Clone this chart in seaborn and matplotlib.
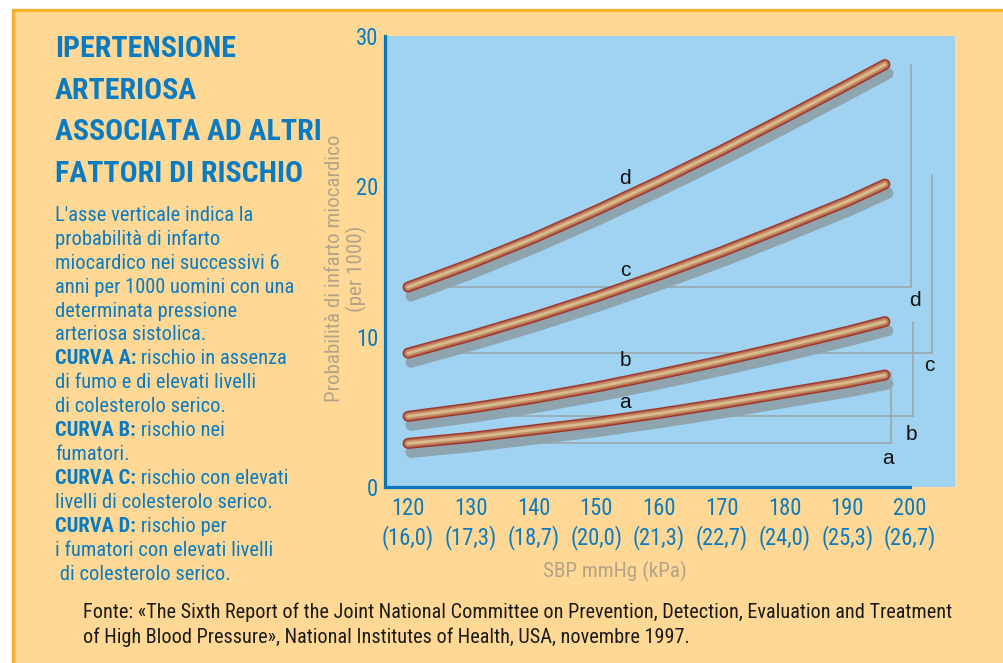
import matplotlib
matplotlib.use("Agg")
import matplotlib.pyplot as plt
import matplotlib.transforms as mtransforms
from matplotlib import font_manager
from matplotlib.patches import Rectangle
import pandas as pd
import seaborn as sns

# --- data -----------------------------------------------------------------
sbp = [120, 130, 140, 150, 160, 170, 180, 190, 196]
curve_a = [2.9, 3.3, 3.8, 4.3, 4.9, 5.55, 6.25, 6.95, 7.45]
curve_b = [4.7, 5.25, 5.9, 6.65, 7.5, 8.4, 9.35, 10.35, 11.0]
curve_c = [8.9, 10.05, 11.3, 12.65, 14.1, 15.65, 17.3, 19.0, 20.15]
curve_d = [13.3, 14.85, 16.55, 18.4, 20.35, 22.4, 24.55, 26.75, 28.1]
curve_names = ["a", "b", "c", "d"]

tick_mmhg = [120, 130, 140, 150, 160, 170, 180, 190, 200]
tick_kpa = ["16,0", "17,3", "18,7", "20,0", "21,3", "22,7", "24,0", "25,3", "26,7"]
y_ticks = [0, 10, 20, 30]

title_lines = ["IPERTENSIONE", "ARTERIOSA", "ASSOCIATA AD ALTRI", "FATTORI DI RISCHIO"]
body_lines = [
    ("", "L'asse verticale indica la"),
    ("", "probabilità di infarto"),
    ("", "miocardico nei successivi 6"),
    ("", "anni per 1000 uomini con una"),
    ("", "determinata pressione"),
    ("", "arteriosa sistolica."),
    ("CURVA A:", " rischio in assenza"),
    ("", "di fumo e di elevati livelli"),
    ("", "di colesterolo serico."),
    ("CURVA B:", " rischio nei"),
    ("", "fumatori."),
    ("CURVA C:", " rischio con elevati"),
    ("", "livelli di colesterolo serico."),
    ("CURVA D:", " rischio per"),
    ("", "i fumatori con elevati livelli"),
    ("", " di colesterolo serico."),
]
source_lines = [
    "Fonte: «The Sixth Report of the Joint National Committee on Prevention, Detection, Evaluation and Treatment",
    "of High Blood Pressure», National Institutes of Health, USA, novembre 1997.",
]
y_label_lines = ["Probabilità di infarto miocardico", "(per 1000)"]
x_label = "SBP mmHg (kPa)"

# --- style ------------------------------------------------------------------
sns.set_theme(style="white")

# pick the narrowest sans family that is installed
installed = {f.name for f in font_manager.fontManager.ttflist}
condensed = [f.name for f in font_manager.fontManager.ttflist
             if str(f.stretch) in ("condensed", "semi-condensed", "extra-condensed")
             or "Condensed" in f.name or "Narrow" in f.name]
FONT = None
for cand in ["Liberation Sans Narrow", "Roboto Condensed", "Open Sans Condensed"] + sorted(set(condensed)):
    if cand in installed:
        FONT = cand
        break
if FONT is None:
    FONT = "Liberation Sans"
plt.rcParams["font.family"] = [FONT, "DejaVu Sans"]

BLUE_TXT = "#0b7bc1"
AXIS_BLUE = "#0a77bd"
PANEL = "#fed894"
BORDER = "#f9b12c"
PLOT_BG = "#a0d3f1"
TAN = "#b3a488"
BRACKET = "#98a7ae"
SHADOW = "#8ea4ae"
TUBE = [("#9e3328", 11.0), ("#b2614a", 8.5), ("#c58f68", 6.0), ("#d9bd8e", 2.6)]

W, H = 1004, 663
fig = plt.figure(figsize=(W / 100, H / 100), dpi=100, facecolor="white")
renderer = fig.canvas.get_renderer()


def fit_size(text, target_px, **props):
    """Font size (pt) at which `text` spans `target_px` pixels."""
    probe = fig.text(0, 0, text, fontsize=10, **props)
    width = probe.get_window_extent(renderer).width
    probe.remove()
    return 10 * target_px / width


title_size = min(30, fit_size("ASSOCIATA AD ALTRI", 266, weight="bold"))
body_size = min(16, fit_size("anni per 1000 uomini con una", 238))
tick_size = min(18, fit_size("120", 33))
source_size = min(15, fit_size(source_lines[0], 864))
ylab_size = min(16, fit_size(y_label_lines[0], 267))
xlab_size = min(16, fit_size(x_label, 144))

# panel with orange rule on the top and left edge
fig.add_artist(Rectangle((13 / W, -0.05), 1.1, 1 - 10 / H + 0.05,
                         transform=fig.transFigure, facecolor=PANEL,
                         edgecolor=BORDER, linewidth=2.4, zorder=0))

ax = fig.add_axes([385 / W, 1 - 487 / H, 570 / W, 451 / H])
ax.set_facecolor(PLOT_BG)
ax.set_xlim(116.33, 207.17)
ax.set_ylim(0, 30)

curves = {"a": curve_a, "b": curve_b, "c": curve_c, "d": curve_d}
bracket_x = {"a": 197.0, "b": 200.5, "c": 203.5, "d": 200.2}
bracket_extra = {"a": 0.1, "b": 0.0, "c": 0.6, "d": 0.0}

# brackets from the 120 mmHg level up to the level reached at the end
for name in curve_names:
    vals = curves[name]
    xb = bracket_x[name]
    ax.plot([sbp[0], xb, xb], [vals[0], vals[0], vals[-1] + bracket_extra[name]],
            color=BRACKET, lw=1.2, zorder=1, solid_joinstyle="miter")

shadow_offset = mtransforms.ScaledTranslation(0.03, -0.09, fig.dpi_scale_trans)
px = 0.72  # points per pixel at 100 dpi

for name in curve_names:
    df = pd.DataFrame({"sbp": sbp, "risk": curves[name]})
    sns.lineplot(data=df, x="sbp", y="risk", ax=ax, color=SHADOW,
                 lw=TUBE[0][1] * px, solid_capstyle="round", zorder=2)
    ax.lines[-1].set_transform(ax.transData + shadow_offset)
    for i, (col, w) in enumerate(TUBE):
        sns.lineplot(data=df, x="sbp", y="risk", ax=ax, color=col,
                     lw=w * px, solid_capstyle="round", zorder=3 + i)

# curve letters
letter_font = ["Liberation Sans", "DejaVu Sans"]
curve_label_pos = {"d": (154.6, 20.5), "c": (154.6, 14.4), "b": (154.6, 8.4), "a": (154.6, 5.6)}
bracket_label_pos = {"d": (200.8, 12.4), "c": (203.0, 8.05), "b": (200.2, 3.5), "a": (196.5, 1.9)}
for name in curve_names:
    ax.text(*curve_label_pos[name], name, ha="center", va="center",
            fontsize=15, color="#111111", family=letter_font, zorder=10)
    ax.text(*bracket_label_pos[name], name, ha="center", va="center",
            fontsize=15, color="#111111", family=letter_font, zorder=10)

# axes
for side in ("top", "right"):
    ax.spines[side].set_visible(False)
for side in ("left", "bottom"):
    ax.spines[side].set_color(AXIS_BLUE)
    ax.spines[side].set_linewidth(2.3)
ax.spines["bottom"].set_bounds(116.33, 200)
ax.set_xticks(tick_mmhg)
ax.set_xticklabels([f"{m}\n({k})" for m, k in zip(tick_mmhg, tick_kpa)])
ax.set_yticks(y_ticks)
ax.tick_params(axis="both", direction="in", length=7, width=2.2, color=AXIS_BLUE,
               labelcolor=BLUE_TXT, labelsize=tick_size)
ax.tick_params(axis="x", pad=7)
ax.tick_params(axis="y", pad=5)
for lbl in ax.get_xticklabels():
    lbl.set_linespacing(1.25)
ax.set_xlabel("")
ax.set_ylabel("")

# axis titles
fig.text(335 / W, 1 - 268 / H, y_label_lines[0], rotation=90, ha="center", va="center",
         color=TAN, fontsize=ylab_size)
fig.text(356 / W, 1 - 269 / H, y_label_lines[1], rotation=90, ha="center", va="center",
         color=TAN, fontsize=ylab_size)
fig.text(615 / W, 1 - 571 / H, x_label, ha="center", va="center",
         color=TAN, fontsize=xlab_size)

# title
for i, line in enumerate(title_lines):
    fig.text(55 / W, 1 - (57 + i * 41.6) / H, line, ha="left", va="baseline",
             fontsize=title_size, weight="bold", color=BLUE_TXT)

# description
for i, (bold, rest) in enumerate(body_lines):
    yb = 1 - (221 + i * 23.9) / H
    if bold:
        t = fig.text(55 / W, yb, bold, ha="left", va="baseline", fontsize=body_size,
                     weight="bold", color=BLUE_TXT)
        ax.annotate(rest, xy=(1, 0), xycoords=t, ha="left", va="bottom",
                    fontsize=body_size, color=BLUE_TXT, annotation_clip=False)
    else:
        fig.text(55 / W, yb, rest, ha="left", va="baseline", fontsize=body_size,
                 color=BLUE_TXT)

# source note
for i, line in enumerate(source_lines):
    fig.text(83 / W, 1 - (618 + i * 25) / H, line, ha="left", va="baseline",
             fontsize=source_size, color="#1a1a1a")

fig.savefig("out.png", dpi=100, facecolor="white")
